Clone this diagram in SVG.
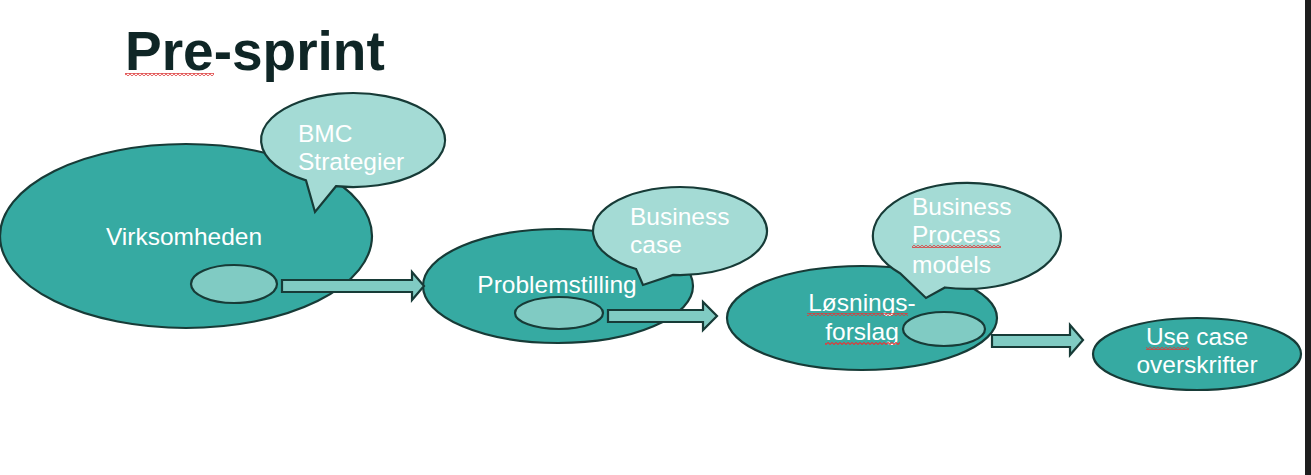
<svg xmlns="http://www.w3.org/2000/svg" width="1311" height="475" viewBox="0 0 1311 475">
<defs>
<pattern id="squig" x="0" y="0" width="4" height="3" patternUnits="userSpaceOnUse">
<path d="M-1 1.5 L0 0.5 L2 2.5 L4 0.5 L5 1.5" fill="none" stroke="#dd3b3b" stroke-width="1.1"/>
</pattern>
<style>
.main{fill:#36aaa2;stroke:#173b37;stroke-width:2.2}
.call{fill:#a4dbd5;stroke:#173b37;stroke-width:2.2;stroke-linejoin:miter}
.small{fill:#80cbc3;stroke:#173b37;stroke-width:2.2}
.arrow{fill:#80cbc3;stroke:#173b37;stroke-width:2.2;stroke-linejoin:miter}
.t{font-family:"Liberation Sans",Arial,sans-serif;font-size:24.5px;fill:#ffffff}
.c{text-anchor:middle}
.title{font-family:"Liberation Sans",Arial,sans-serif;font-size:55px;font-weight:bold;fill:#0f2626}
.sq{fill:url(#squig)}
</style>
</defs>
<rect x="0" y="0" width="1311" height="475" fill="#ffffff"/>
<rect x="1305" y="0" width="6" height="475" fill="#1e1e1e"/>

<g id="title">
<text class="title" x="125" y="70">Pre-sprint</text>
<rect class="sq" x="125" y="73" width="89" height="3"/>
</g>

<g id="virksomheden">
<ellipse class="main" cx="186" cy="236" rx="186" ry="92"/>
<text class="t c" x="184" y="245">Virksomheden</text>
<ellipse class="small" cx="234" cy="284" rx="43" ry="19"/>
</g>

<g id="bmc">
<path class="call" d="M306 180.4 A92 47 0 1 1 336 186.2 L315 212 Z"/>
<text class="t" x="298" y="142">BMC</text>
<text class="t" x="298" y="170">Strategier</text>
</g>

<g id="problemstilling">
<ellipse class="main" cx="558" cy="286" rx="135" ry="57"/>
<text class="t c" x="557" y="293">Problemstilling</text>
<ellipse class="small" cx="559" cy="313" rx="44" ry="16"/>
</g>

<g id="businesscase">
<path class="call" d="M636 269 A87 44 0 1 1 673 274.9 L643 285 Z"/>
<text class="t" x="630" y="225">Business</text>
<text class="t" x="630" y="253">case</text>
</g>

<g id="losningsforslag">
<ellipse class="main" cx="862" cy="318" rx="135" ry="52"/>
<text class="t c" x="862" y="311">Løsnings-</text>
<text class="t c" x="862" y="340">forslag</text>
<rect class="sq" x="807" y="313" width="101" height="3"/>
<rect class="sq" x="825" y="342" width="75" height="3"/>
<ellipse class="small" cx="944" cy="329" rx="41" ry="17"/>
</g>

<g id="bpm">
<path class="call" d="M900 273.2 A94 53 0 1 1 945 287.5 L926 298 Z"/>
<text class="t" x="912" y="215">Business</text>
<text class="t" x="912" y="243">Process</text>
<text class="t" x="912" y="273">models</text>
<rect class="sq" x="912" y="245" width="89" height="3"/>
</g>

<g id="usecase">
<ellipse class="main" cx="1197" cy="354" rx="104" ry="36"/>
<text class="t c" x="1197" y="345">Use case</text>
<text class="t c" x="1197" y="373">overskrifter</text>
<rect class="sq" x="1146" y="347" width="43" height="3"/>
</g>

<g id="connectors">
<path class="arrow" d="M282 280 L412 280 L412 272 L424 286 L412 300 L412 292 L282 292 Z"/>
<path class="arrow" d="M608 310 L703 310 L703 302 L717 316 L703 330 L703 322 L608 322 Z"/>
<path class="arrow" d="M992 335 L1070 335 L1070 325 L1083 340 L1070 355 L1070 347 L992 347 Z"/>
</g>
</svg>
